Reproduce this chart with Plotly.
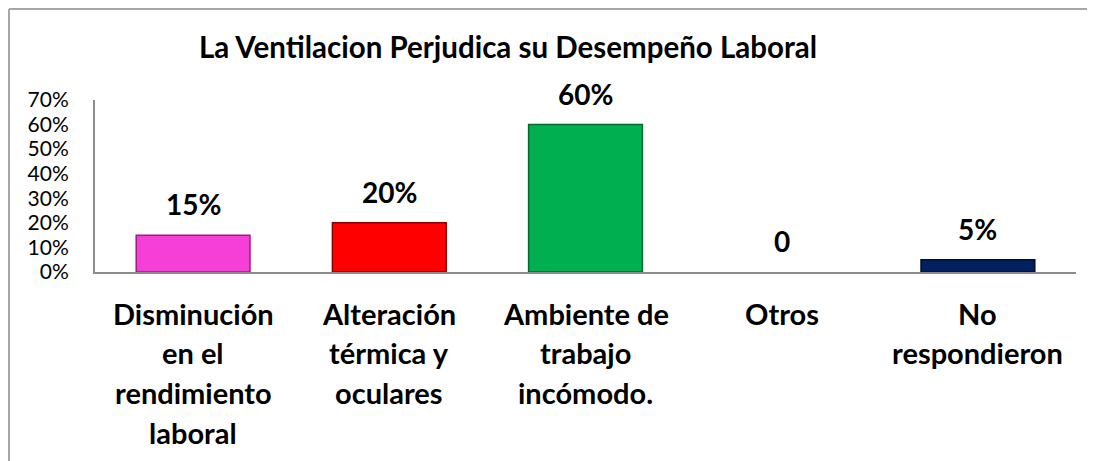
import plotly.graph_objects as go

categories = ["Disminución<br>en el<br>rendimiento<br>laboral",
              "Alteración<br>térmica y<br>oculares",
              "Ambiente de<br>trabajo<br>incómodo.",
              "Otros",
              "No<br>respondieron"]
values = [15, 20, 60, 0, 5]
value_labels = ["15%", "20%", "60%", "0", "5%"]
colors = ["#F53FD6", "#FF0000", "#00B050", "#FFFFFF", "#002060"]
edge_colors = ["#9A1C86", "#8E0000", "#006B30", "#FFFFFF", "#001030"]
y_ticks = [0, 10, 20, 30, 40, 50, 60, 70]
y_ticklabels = [f"{t}%" for t in y_ticks]

# page body has an 8px margin; figure sized to fit the window
W, H = 1087, 453
ml, mr, mt, mb = 87, 19, 92, 189
pw, ph = W - ml - mr, H - mt - mb

font_family = "Lato, 'Open Sans', sans-serif"

fig = go.Figure(go.Bar(
    x=list(range(len(categories))), y=values,
    marker=dict(color=colors, line=dict(color=edge_colors, width=1.5)),
    width=0.58, hoverinfo="skip",
))

annotations = []
for i, (v, lab) in enumerate(zip(values, value_labels)):
    annotations.append(dict(x=i, y=v, xref="x", yref="y", text=f"<b>{lab}</b>",
                            showarrow=False, yanchor="bottom", yshift=12,
                            font=dict(family=font_family, size=28, color="black")))
for i, cat in enumerate(categories):
    for j, line in enumerate(cat.split("<br>")):
        annotations.append(dict(x=i, y=0, xref="x", yref="paper", text=f"<b>{line}</b>",
                                showarrow=False, yanchor="middle", yshift=-41 - 39.7 * j,
                                font=dict(family=font_family, size=29, color="black")))

annotations.append(dict(x=(500 - ml) / pw, y=(H - mb - 38) / ph, xref="paper", yref="paper",
                        text="<b>La Ventilacion Perjudica su Desempeño Laboral</b>",
                        showarrow=False, xanchor="center", yanchor="middle",
                        font=dict(family=font_family, size=29.5, color="black")))

fig.update_layout(
    width=W, height=H,
    margin=dict(l=ml, r=mr, t=mt, b=mb),
    paper_bgcolor="white", plot_bgcolor="white",
    showlegend=False,
    annotations=annotations,
    xaxis=dict(range=[-0.5, len(categories) - 0.5], showticklabels=False, showgrid=False,
               zeroline=False, showline=True, linecolor="#8C8C8C", linewidth=2, ticks=""),
    yaxis=dict(range=[0, 70], tickvals=y_ticks, ticktext=y_ticklabels, showgrid=False,
               zeroline=False, showline=True, linecolor="#8C8C8C", linewidth=2, ticks="",
               ticklabelstandoff=20,
               tickfont=dict(family=font_family, size=21, color="black")),
    shapes=[dict(type="line", xref="paper", yref="paper",
                 x0=(1 - ml) / pw, x1=(W + 5 - ml) / pw,
                 y0=(H - mb - 1) / ph, y1=(H - mb - 1) / ph,
                 line=dict(color="#A6A6A6", width=2)),
            dict(type="line", xref="paper", yref="paper",
                 x0=(1 - ml) / pw, x1=(1 - ml) / pw,
                 y0=(H - mb - 1) / ph, y1=(H - mb - H - 5) / ph,
                 line=dict(color="#A6A6A6", width=2))],
)

fig.write_html("out.html")
